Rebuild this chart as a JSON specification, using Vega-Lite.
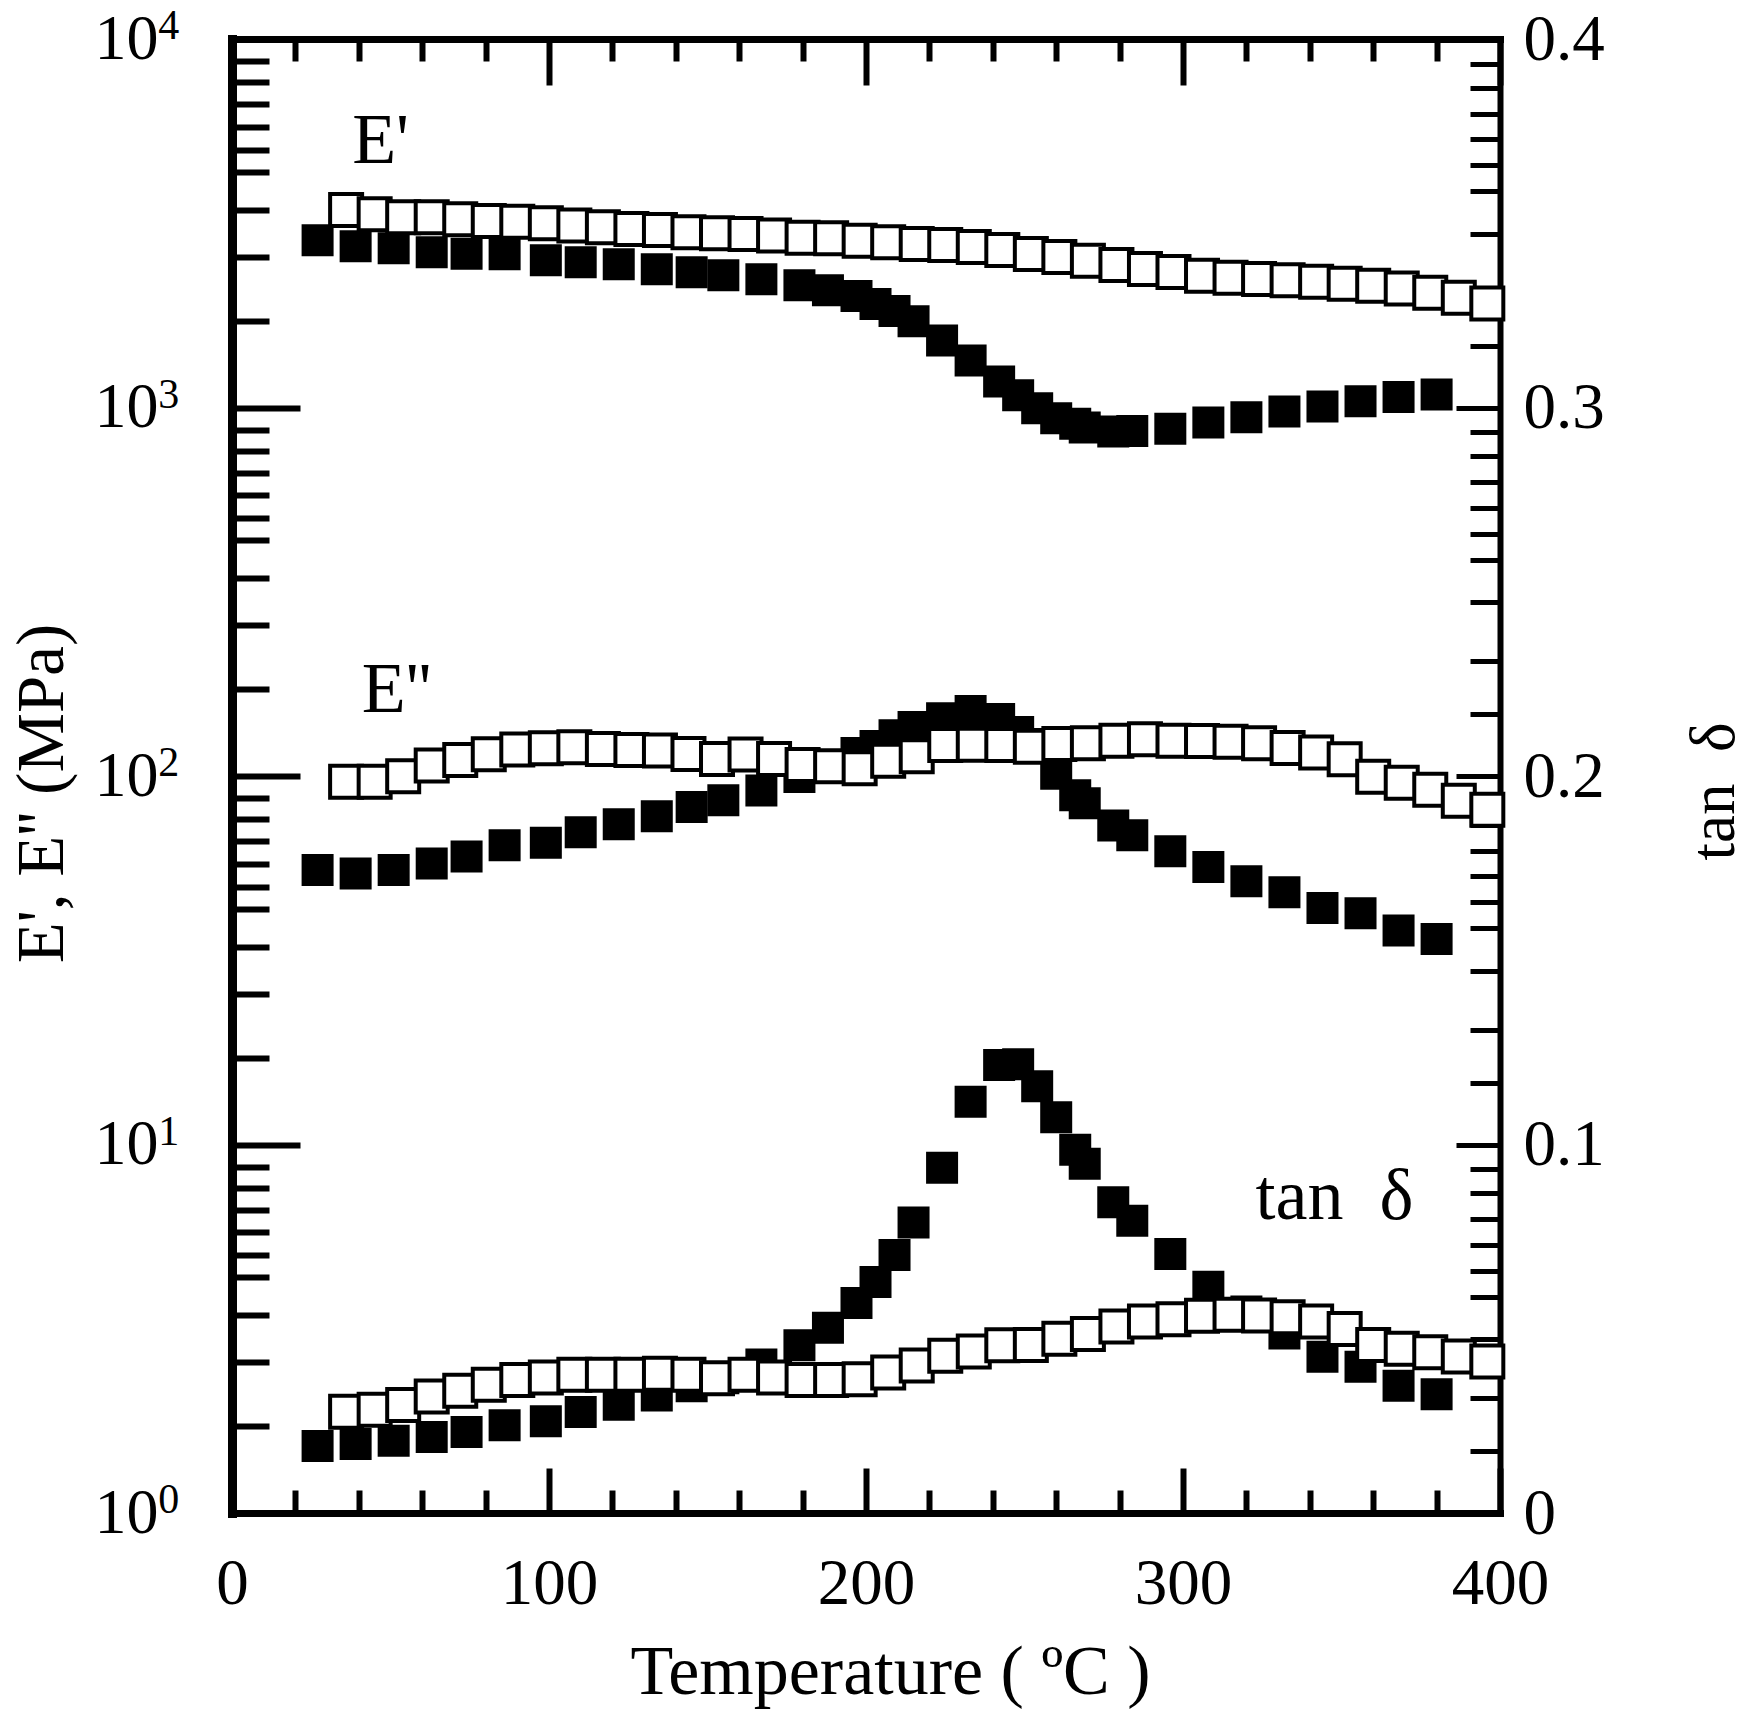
{
  "$schema": "https://vega.github.io/schema/vega-lite/v6.json",
  "width": 1268,
  "height": 1474,
  "autosize": {"type": "none"},
  "padding": {"left": 232, "top": 39, "right": 250, "bottom": 196},
  "background": "white",
  "config": {"view": {"stroke": null}, "font": "Liberation Serif"},
  "datasets": {
    "E_filled": [
      {"T": 27, "v": 2843}, {"T": 39, "v": 2738}, {"T": 51, "v": 2705}, {"T": 63, "v": 2637},
      {"T": 74, "v": 2614}, {"T": 86, "v": 2605}, {"T": 99, "v": 2508}, {"T": 110, "v": 2477},
      {"T": 122, "v": 2447}, {"T": 134, "v": 2371}, {"T": 145, "v": 2327}, {"T": 155, "v": 2284},
      {"T": 167, "v": 2227}, {"T": 179, "v": 2145}, {"T": 188, "v": 2079}, {"T": 197, "v": 2006},
      {"T": 203, "v": 1909}, {"T": 209, "v": 1827}, {"T": 215, "v": 1713}, {"T": 224, "v": 1521},
      {"T": 233, "v": 1342}, {"T": 242, "v": 1177}, {"T": 248, "v": 1080}, {"T": 254, "v": 996},
      {"T": 260, "v": 935}, {"T": 266, "v": 904}, {"T": 269, "v": 882}, {"T": 278, "v": 861},
      {"T": 284, "v": 864}, {"T": 296, "v": 875}, {"T": 308, "v": 910}, {"T": 320, "v": 941},
      {"T": 332, "v": 975}, {"T": 344, "v": 1006}, {"T": 356, "v": 1040}, {"T": 368, "v": 1067},
      {"T": 380, "v": 1085},
      {"T": 27, "v": 55.6}, {"T": 39, "v": 54.4}, {"T": 51, "v": 55.6}, {"T": 63, "v": 57.9},
      {"T": 74, "v": 60.5}, {"T": 86, "v": 64.9}, {"T": 99, "v": 65.9}, {"T": 110, "v": 70.4},
      {"T": 122, "v": 74.0}, {"T": 134, "v": 77.8}, {"T": 145, "v": 82.4}, {"T": 155, "v": 85.9},
      {"T": 167, "v": 91.4}, {"T": 179, "v": 99.4}, {"T": 188, "v": 106.0}, {"T": 197, "v": 115.5},
      {"T": 203, "v": 120.6}, {"T": 209, "v": 128.9}, {"T": 215, "v": 135.9}, {"T": 224, "v": 143.4},
      {"T": 233, "v": 150.2}, {"T": 242, "v": 142.8}, {"T": 248, "v": 131.7}, {"T": 254, "v": 122.2},
      {"T": 260, "v": 101.4}, {"T": 266, "v": 88.6}, {"T": 269, "v": 84.4}, {"T": 278, "v": 73.4},
      {"T": 284, "v": 69.1}, {"T": 296, "v": 62.5}, {"T": 308, "v": 56.6}, {"T": 320, "v": 51.8},
      {"T": 332, "v": 48.4}, {"T": 344, "v": 43.8}, {"T": 356, "v": 42.4}, {"T": 368, "v": 38.1},
      {"T": 380, "v": 36.1}
    ],
    "tan_filled": [
      {"T": 27, "v": 0.0182}, {"T": 39, "v": 0.0187}, {"T": 51, "v": 0.0196}, {"T": 63, "v": 0.0206},
      {"T": 74, "v": 0.0220}, {"T": 86, "v": 0.0238}, {"T": 99, "v": 0.0249}, {"T": 110, "v": 0.0274},
      {"T": 122, "v": 0.0294}, {"T": 134, "v": 0.0319}, {"T": 145, "v": 0.0344}, {"T": 155, "v": 0.0366},
      {"T": 167, "v": 0.0403}, {"T": 179, "v": 0.0455}, {"T": 188, "v": 0.0503}, {"T": 197, "v": 0.0570},
      {"T": 203, "v": 0.0627}, {"T": 209, "v": 0.0700}, {"T": 215, "v": 0.0788}, {"T": 224, "v": 0.0937},
      {"T": 233, "v": 0.1116}, {"T": 242, "v": 0.1216}, {"T": 248, "v": 0.1218}, {"T": 254, "v": 0.1158},
      {"T": 260, "v": 0.1074}, {"T": 266, "v": 0.0986}, {"T": 269, "v": 0.0948}, {"T": 278, "v": 0.0843},
      {"T": 284, "v": 0.0793}, {"T": 296, "v": 0.0703}, {"T": 308, "v": 0.0614}, {"T": 320, "v": 0.0547},
      {"T": 332, "v": 0.0487}, {"T": 344, "v": 0.0424}, {"T": 356, "v": 0.0397}, {"T": 368, "v": 0.0345},
      {"T": 380, "v": 0.0322}
    ],
    "E_open": [
      {"T": 36, "v": 3436}, {"T": 45, "v": 3345}, {"T": 54, "v": 3283}, {"T": 63, "v": 3283},
      {"T": 72, "v": 3242}, {"T": 81, "v": 3208}, {"T": 90, "v": 3194}, {"T": 99, "v": 3162},
      {"T": 108, "v": 3116}, {"T": 117, "v": 3083}, {"T": 126, "v": 3051}, {"T": 135, "v": 3032},
      {"T": 144, "v": 2989}, {"T": 153, "v": 2970}, {"T": 162, "v": 2958}, {"T": 171, "v": 2927},
      {"T": 180, "v": 2890}, {"T": 189, "v": 2878}, {"T": 198, "v": 2836}, {"T": 207, "v": 2807},
      {"T": 216, "v": 2778}, {"T": 225, "v": 2761}, {"T": 234, "v": 2727}, {"T": 243, "v": 2675},
      {"T": 252, "v": 2609}, {"T": 261, "v": 2561}, {"T": 270, "v": 2503}, {"T": 279, "v": 2436},
      {"T": 288, "v": 2375}, {"T": 297, "v": 2331}, {"T": 306, "v": 2278}, {"T": 315, "v": 2250},
      {"T": 324, "v": 2231}, {"T": 333, "v": 2213}, {"T": 342, "v": 2194}, {"T": 351, "v": 2167},
      {"T": 360, "v": 2140}, {"T": 369, "v": 2105}, {"T": 378, "v": 2048}, {"T": 387, "v": 1985},
      {"T": 396, "v": 1916},
      {"T": 36, "v": 96.5}, {"T": 45, "v": 96.5}, {"T": 54, "v": 99.8}, {"T": 63, "v": 106.7},
      {"T": 72, "v": 110.5}, {"T": 81, "v": 114.5}, {"T": 90, "v": 118.1}, {"T": 99, "v": 118.9},
      {"T": 108, "v": 119.6}, {"T": 117, "v": 118.4}, {"T": 126, "v": 117.7}, {"T": 135, "v": 117.2},
      {"T": 144, "v": 114.7}, {"T": 153, "v": 111.2}, {"T": 162, "v": 114.3}, {"T": 171, "v": 111.2},
      {"T": 180, "v": 107.1}, {"T": 189, "v": 106.2}, {"T": 198, "v": 104.9}, {"T": 207, "v": 110.0},
      {"T": 216, "v": 113.1}, {"T": 225, "v": 121.4}, {"T": 234, "v": 121.6}, {"T": 243, "v": 121.4},
      {"T": 252, "v": 120.1}, {"T": 261, "v": 122.2}, {"T": 270, "v": 122.7}, {"T": 279, "v": 124.7},
      {"T": 288, "v": 125.8}, {"T": 297, "v": 124.7}, {"T": 306, "v": 124.5}, {"T": 315, "v": 123.9},
      {"T": 324, "v": 122.7}, {"T": 333, "v": 119.1}, {"T": 342, "v": 115.9}, {"T": 351, "v": 111.0},
      {"T": 360, "v": 99.6}, {"T": 369, "v": 95.9}, {"T": 378, "v": 91.8}, {"T": 387, "v": 85.7},
      {"T": 396, "v": 81.0}
    ],
    "tan_open": [
      {"T": 36, "v": 0.0275}, {"T": 45, "v": 0.0280}, {"T": 54, "v": 0.0293}, {"T": 63, "v": 0.0316},
      {"T": 72, "v": 0.0332}, {"T": 81, "v": 0.0348}, {"T": 90, "v": 0.0361}, {"T": 99, "v": 0.0368},
      {"T": 108, "v": 0.0375}, {"T": 117, "v": 0.0375}, {"T": 126, "v": 0.0375}, {"T": 135, "v": 0.0378},
      {"T": 144, "v": 0.0375}, {"T": 153, "v": 0.0366}, {"T": 162, "v": 0.0375}, {"T": 171, "v": 0.0368},
      {"T": 180, "v": 0.0361}, {"T": 189, "v": 0.0361}, {"T": 198, "v": 0.0363}, {"T": 207, "v": 0.0381},
      {"T": 216, "v": 0.0400}, {"T": 225, "v": 0.0427}, {"T": 234, "v": 0.0438}, {"T": 243, "v": 0.0455},
      {"T": 252, "v": 0.0456}, {"T": 261, "v": 0.0473}, {"T": 270, "v": 0.0486}, {"T": 279, "v": 0.0506},
      {"T": 288, "v": 0.0520}, {"T": 297, "v": 0.0526}, {"T": 306, "v": 0.0535}, {"T": 315, "v": 0.0538},
      {"T": 324, "v": 0.0536}, {"T": 333, "v": 0.0531}, {"T": 342, "v": 0.0520}, {"T": 351, "v": 0.0499},
      {"T": 360, "v": 0.0456}, {"T": 369, "v": 0.0446}, {"T": 378, "v": 0.0436}, {"T": 387, "v": 0.0425},
      {"T": 396, "v": 0.0411}
    ],
    "notes": [
      {"T": 37.9, "v": 4609, "label": "E'"},
      {"T": 40.9, "v": 149.2, "label": "E''"},
      {"T": 322.9, "v": 6.28, "label": "tan\u00a0\u00a0δ"}
    ],
    "exponents": [
      {"T": -23.3, "v": 1, "e": "0"},
      {"T": -23.3, "v": 10, "e": "1"},
      {"T": -23.3, "v": 100, "e": "2"},
      {"T": -23.3, "v": 1000, "e": "3"},
      {"T": -23.3, "v": 10000, "e": "4"}
    ]
  },
  "layer": [
    {
      "data": {"name": "E_filled"},
      "mark": {"type": "point", "shape": "square", "filled": true, "color": "black", "strokeWidth": 0, "size": 1024, "opacity": 1},
      "encoding": {
        "x": {
          "field": "T", "type": "quantitative",
          "scale": {"domain": [0, 400], "nice": false},
          "axis": {
            "orient": "bottom",
            "values": [0, 20, 40, 60, 80, 100, 120, 140, 160, 180, 200, 220, 240, 260, 280, 300, 320, 340, 360, 380, 400],
            "grid": false,
            "domainColor": "black", "domainWidth": 7, "domainCap": "square",
            "tickColor": "black", "tickWidth": 6,
            "tickSize": {"condition": {"test": "datum.value % 100 === 0", "value": -45}, "value": -23},
            "labelExpr": "datum.value % 100 === 0 ? datum.label : ''",
            "labelFont": "Liberation Serif", "labelFontSize": 65, "labelColor": "black",
            "labelPadding": 84, "labelFlush": false, "labelOverlap": false, "labelAngle": 0,
            "title": "Temperature ( ºC )",
            "titleFont": "Liberation Serif", "titleFontSize": 70, "titleFontWeight": "normal", "titleColor": "black",
            "titleX": 658, "titleY": 180, "titleAlign": "center", "titleBaseline": "alphabetic", "titleAngle": 0
          }
        },
        "y": {
          "field": "v", "type": "quantitative",
          "scale": {"type": "log", "domain": [1, 10000], "nice": false},
          "axis": {
            "orient": "left",
            "values": [1, 1.718, 2.565, 3.437, 4.365, 5.003, 5.783, 6.659, 7.63, 8.706,
                       10, 17.18, 25.65, 34.37, 43.65, 50.03, 57.83, 66.59, 76.3, 87.06,
                       100, 171.8, 256.5, 343.7, 436.5, 500.3, 578.3, 665.9, 763, 870.6,
                       1000, 1718, 2565, 3437, 4365, 5003, 5783, 6659, 7630, 8706, 10000],
            "grid": false,
            "domainColor": "black", "domainWidth": 9, "domainCap": "square",
            "tickColor": "black", "tickWidth": 6,
            "tickSize": {"condition": {"test": "indexof([1, 10, 100, 1000, 10000], datum.value) >= 0", "value": -68}, "value": -37},
            "labelExpr": "indexof([1, 10, 100, 1000, 10000], datum.value) >= 0 ? '10' : ''",
            "labelFont": "Liberation Serif", "labelFontSize": 64, "labelColor": "black",
            "labelPadding": 142, "labelAlign": "right", "labelBaseline": "middle",
            "labelFlush": false, "labelOverlap": false,
            "title": "E', E'' (MPa)",
            "titleFont": "Liberation Serif", "titleFontSize": 67, "titleFontWeight": "normal", "titleColor": "black",
            "titleAngle": 270, "titleX": -190, "titleY": 754, "titleAlign": "center", "titleBaseline": "middle"
          }
        }
      }
    },
    {
      "data": {"name": "tan_filled"},
      "mark": {"type": "point", "shape": "square", "filled": true, "color": "black", "strokeWidth": 0, "size": 1024, "opacity": 1},
      "encoding": {
        "x": {
          "field": "T", "type": "quantitative",
          "scale": {"domain": [0, 400], "nice": false},
          "axis": {
            "orient": "top",
            "values": [0, 20, 40, 60, 80, 100, 120, 140, 160, 180, 200, 220, 240, 260, 280, 300, 320, 340, 360, 380, 400],
            "grid": false,
            "domainColor": "black", "domainWidth": 7, "domainCap": "square",
            "tickColor": "black", "tickWidth": 6,
            "tickSize": {"condition": {"test": "datum.value % 100 === 0", "value": -46}, "value": -22},
            "labels": false,
            "title": null
          }
        },
        "y": {
          "field": "v", "type": "quantitative",
          "scale": {"domain": [0, 0.4], "nice": false, "zero": false},
          "axis": {
            "orient": "right",
            "values": [0, 0.0167, 0.0312, 0.0471, 0.0587, 0.0658, 0.0728, 0.0797, 0.0868, 0.0933,
                       0.1, 0.1167, 0.1312, 0.1471, 0.1587, 0.1658, 0.1728, 0.1797, 0.1868, 0.1933,
                       0.2, 0.2167, 0.2312, 0.2471, 0.2587, 0.2658, 0.2728, 0.2797, 0.2868, 0.2933,
                       0.3, 0.3167, 0.3312, 0.3471, 0.3587, 0.3658, 0.3728, 0.3797, 0.3868, 0.3933, 0.4],
            "grid": false,
            "domainColor": "black", "domainWidth": 6, "domainCap": "square",
            "tickColor": "black", "tickWidth": 5,
            "tickSize": {"condition": {"test": "abs(datum.value * 10 - round(datum.value * 10)) < 0.001", "value": -44}, "value": -30},
            "labelExpr": "abs(datum.value * 10 - round(datum.value * 10)) < 0.001 ? (datum.value == 0 ? '0' : format(datum.value, '.1f')) : ''",
            "labelFont": "Liberation Serif", "labelFontSize": 65, "labelColor": "black",
            "labelPadding": 67, "labelAlign": "left", "labelBaseline": "middle",
            "labelFlush": false, "labelOverlap": false,
            "title": "tan\u00a0\u00a0δ",
            "titleFont": "Liberation Serif", "titleFontSize": 63, "titleFontWeight": "normal", "titleColor": "black",
            "titleAngle": 270, "titleX": 214, "titleY": 752, "titleAlign": "center", "titleBaseline": "middle"
          }
        }
      }
    },
    {
      "data": {"name": "E_open"},
      "mark": {"type": "point", "shape": "square", "filled": true, "fill": "white", "stroke": "black", "strokeWidth": 4, "size": 1024, "opacity": 1},
      "encoding": {
        "x": {"field": "T", "type": "quantitative", "scale": {"domain": [0, 400], "nice": false}, "axis": null},
        "y": {"field": "v", "type": "quantitative", "scale": {"type": "log", "domain": [1, 10000], "nice": false}, "axis": null}
      }
    },
    {
      "data": {"name": "tan_open"},
      "mark": {"type": "point", "shape": "square", "filled": true, "fill": "white", "stroke": "black", "strokeWidth": 4, "size": 1024, "opacity": 1},
      "encoding": {
        "x": {"field": "T", "type": "quantitative", "scale": {"domain": [0, 400], "nice": false}, "axis": null},
        "y": {"field": "v", "type": "quantitative", "scale": {"domain": [0, 0.4], "nice": false, "zero": false}, "axis": null}
      }
    },
    {
      "data": {"name": "notes"},
      "mark": {"type": "text", "align": "left", "baseline": "alphabetic", "font": "Liberation Serif", "fontSize": 72, "color": "black"},
      "encoding": {
        "x": {"field": "T", "type": "quantitative", "scale": {"domain": [0, 400], "nice": false}, "axis": null},
        "y": {"field": "v", "type": "quantitative", "scale": {"type": "log", "domain": [1, 10000], "nice": false}, "axis": null},
        "text": {"field": "label", "type": "nominal"}
      }
    },
    {
      "data": {"name": "exponents"},
      "mark": {"type": "text", "align": "left", "baseline": "alphabetic", "dy": 0, "font": "Liberation Serif", "fontSize": 42, "color": "black"},
      "encoding": {
        "x": {"field": "T", "type": "quantitative", "scale": {"domain": [0, 400], "nice": false}, "axis": null},
        "y": {"field": "v", "type": "quantitative", "scale": {"type": "log", "domain": [1, 10000], "nice": false}, "axis": null},
        "text": {"field": "e", "type": "nominal"}
      }
    }
  ],
  "resolve": {
    "scale": {"x": "independent", "y": "independent"},
    "axis": {"x": "independent", "y": "independent"}
  }
}
